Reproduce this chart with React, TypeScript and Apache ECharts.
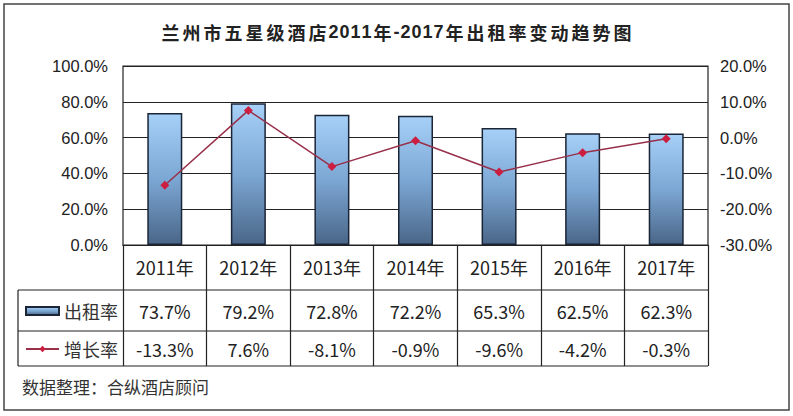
import React, { useEffect, useRef } from "react";
import * as echarts from "echarts";

const titleText = "兰州市五星级酒店2011年-2017年出租率变动趋势图";
const sourceText = "数据整理：合纵酒店顾问";
const years = ["2011年", "2012年", "2013年", "2014年", "2015年", "2016年", "2017年"];
const occupancy = [73.7, 79.2, 72.8, 72.2, 65.3, 62.5, 62.3];
const growth = [-13.3, 7.6, -8.1, -0.9, -9.6, -4.2, -0.3];
const seriesNames = ["出租率", "增长率"];
const leftAxisRange = [0, 100, 20];
const rightAxisRange = [-30, 20, 10];

const CJK = "'Noto Sans CJK SC', 'Noto Sans', sans-serif";
const LAT = "'Liberation Sans', Arial, sans-serif";

const pct = (v: number) => v.toFixed(1) + "%";

function richTitle(s: string) {
  return Array.from(s)
    .map((ch) => (/[\u4e00-\u9fff]/.test(ch) ? `{c|${ch}}` : `{d|${ch}}`))
    .join("");
}

export default function App() {
  const ref = useRef<HTMLDivElement>(null);
  useEffect(() => {
    if (!ref.current) return;
    const chart = echarts.init(ref.current, undefined, { renderer: "svg" });
    const GL = 123, GT = 66, GR = 708, GB = 245;
    const lineColor = "#222";
    const barGradient = new echarts.graphic.LinearGradient(0, 0, 0, 1, [
      { offset: 0, color: "#a6d0f7" },
      { offset: 0.5, color: "#7ca7d4" },
      { offset: 1, color: "#4a6688" },
    ]);
    const hLine = (y: number) => ({
      type: "line",
      shape: { x1: 18, y1: y, x2: GR, y2: y },
      style: { stroke: lineColor, lineWidth: 1.2 },
    });
    const tableLabel = (margin: number) => ({
      interval: 0,
      margin,
      verticalAlign: "middle",
      fontSize: 18,
      fontFamily: CJK,
      color: "#222",
    });
    chart.setOption({
      animation: false,
      backgroundColor: "#fff",
      title: {
        text: richTitle(titleText),
        left: "center",
        top: 18,
        textStyle: {
          rich: {
            c: { fontSize: 18, fontWeight: "bold", fontFamily: CJK, color: "#222", padding: [0, 1.5, 0, 1.5] },
            d: { fontSize: 18, fontWeight: "bold", fontFamily: LAT, color: "#222", padding: [0, 0.5, 0, 0.5] },
          },
        },
      },
      legend: {
        orient: "vertical",
        left: 25,
        top: 301,
        padding: 0,
        itemWidth: 33,
        itemHeight: 8,
        itemGap: 18,
        textStyle: { fontSize: 18, fontFamily: CJK, color: "#333", lineHeight: 20 },
        data: [
          { name: seriesNames[0], icon: "rect" },
          { name: seriesNames[1] },
        ],
      },
      grid: {
        left: GL,
        top: GT,
        right: 793 - GR,
        bottom: 416 - GB,
        show: true,
        borderColor: lineColor,
        borderWidth: 1.2,
      },
      xAxis: [
        {
          type: "category",
          data: years,
          position: "bottom",
          axisLine: { show: true, lineStyle: { color: lineColor, width: 1.2 } },
          axisTick: { show: true, interval: 0, length: 121, lineStyle: { color: lineColor, width: 1.2 } },
          axisLabel: tableLabel(22),
        },
        {
          type: "category",
          data: occupancy.map(pct),
          position: "bottom",
          axisLine: { show: false },
          axisTick: { show: false },
          axisLabel: tableLabel(66),
        },
        {
          type: "category",
          data: growth.map(pct),
          position: "bottom",
          axisLine: { show: false },
          axisTick: { show: false },
          axisLabel: tableLabel(104),
        },
      ],
      yAxis: [
        {
          type: "value",
          min: leftAxisRange[0],
          max: leftAxisRange[1],
          interval: leftAxisRange[2],
          axisLine: { show: false },
          axisTick: { show: false },
          splitLine: { show: true, lineStyle: { color: lineColor, width: 1.2 } },
          axisLabel: { formatter: pct, margin: 15, fontSize: 16.5, fontFamily: LAT, color: "#222" },
        },
        {
          type: "value",
          min: rightAxisRange[0],
          max: rightAxisRange[1],
          interval: rightAxisRange[2],
          position: "right",
          axisLine: { show: false },
          axisTick: { show: false },
          splitLine: { show: false },
          axisLabel: { formatter: pct, margin: 12, fontSize: 16.5, fontFamily: LAT, color: "#222" },
        },
      ],
      series: [
        {
          name: seriesNames[0],
          type: "bar",
          xAxisIndex: 0,
          yAxisIndex: 0,
          data: occupancy,
          barWidth: 35,
          itemStyle: { color: barGradient, borderColor: "#1a2536", borderWidth: 1.5 },
        },
        {
          name: seriesNames[1],
          type: "line",
          xAxisIndex: 0,
          yAxisIndex: 1,
          data: growth,
          symbol: "diamond",
          symbolSize: 9,
          lineStyle: { color: "#98304a", width: 1.5 },
          itemStyle: { color: "#cc1e40" },
        },
      ],
      graphic: [
        {
          type: "rect",
          shape: { x: 4, y: 4, width: 785, height: 406 },
          style: { fill: "none", stroke: "#444", lineWidth: 1.5 },
          silent: true,
        },
        hLine(290),
        hLine(331),
        hLine(366),
        {
          type: "line",
          shape: { x1: 18, y1: 290, x2: 18, y2: 366 },
          style: { stroke: lineColor, lineWidth: 1.2 },
        },
        {
          type: "text",
          x: 22,
          y: 386,
          style: { text: sourceText, fontSize: 17, fontFamily: CJK, fill: "#333", verticalAlign: "middle" },
        },
      ],
    });
    return () => chart.dispose();
  }, []);
  return <div ref={ref} style={{ position: "fixed", left: 0, top: 0, width: 793, height: 416 }} />;
}
